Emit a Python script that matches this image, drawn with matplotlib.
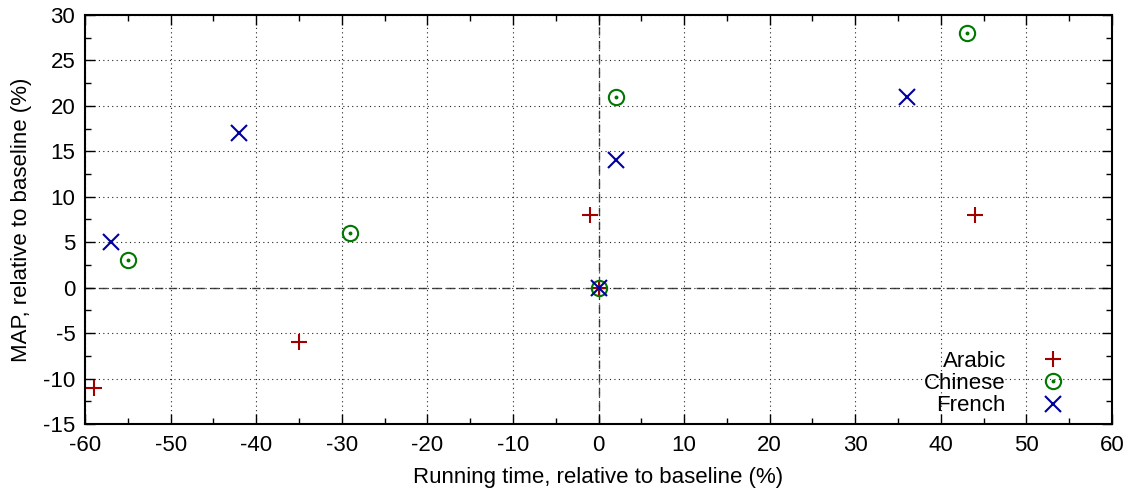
import matplotlib
matplotlib.use('Agg')
import matplotlib.pyplot as plt
from matplotlib.ticker import MultipleLocator
from matplotlib.legend_handler import HandlerTuple

plt.rcParams['font.family'] = ['Liberation Sans', 'DejaVu Sans']
plt.rcParams['font.size'] = 16
plt.rcParams['axes.unicode_minus'] = False

# data
arabic_x = [-59, -35, -1, 0, 44]
arabic_y = [-11, -6, 8, 0, 8]
chinese_x = [-55, -29, 0, 2, 43]
chinese_y = [3, 6, 0, 21, 28]
french_x = [-57, -42, 0, 2, 36]
french_y = [5, 17, 0, 14, 21]

red = '#a00000'
green = '#007800'
blue = '#0000a0'

fig = plt.figure(figsize=(11.37, 4.95), dpi=100)
ax = fig.add_axes([85/1137, 1 - 424/495, (1112-85)/1137, (424-15)/495])

ax.set_xlim(-60, 60)
ax.set_ylim(-15, 30)
ax.xaxis.set_major_locator(MultipleLocator(10))
ax.xaxis.set_minor_locator(MultipleLocator(5))
ax.yaxis.set_major_locator(MultipleLocator(5))
ax.yaxis.set_minor_locator(MultipleLocator(2.5))
ax.tick_params(which='both', direction='in', top=True, right=True, width=1)
ax.tick_params(which='major', length=7)
ax.tick_params(which='minor', length=4)
ax.tick_params(axis='x', pad=8)
ax.tick_params(axis='y', pad=7)
for s in ax.spines.values():
    s.set_linewidth(1.5)

ax.grid(True, which='major', linestyle=(0, (1, 3)), color='#222222', linewidth=0.8)
ax.axhline(0, color='#444444', linestyle=(0, (6, 4)), linewidth=1, zorder=1)
ax.axvline(0, color='#444444', linestyle=(0, (6, 4)), linewidth=1, zorder=1)

h1, = ax.plot(arabic_x, arabic_y, linestyle='none', marker='+', ms=11, mew=1.5, color=red, zorder=3)
h2a, = ax.plot(chinese_x, chinese_y, linestyle='none', marker='o', ms=11, mew=1.5,
               mfc='none', mec=green, zorder=3)
h2b, = ax.plot(chinese_x, chinese_y, linestyle='none', marker='o', ms=1.8, color=green, zorder=3)
h3, = ax.plot(french_x, french_y, linestyle='none', marker='x', ms=11, mew=1.5, color=blue, zorder=3)

ax.set_xlabel('Running time, relative to baseline (%)', labelpad=8)
ax.set_ylabel('MAP, relative to baseline (%)', labelpad=8)

leg = ax.legend([h1, (h2a, h2b), h3], ['Arabic', 'Chinese', 'French'],
                handler_map={tuple: HandlerTuple(ndivide=1, pad=0)},
                loc='lower right', bbox_to_anchor=(0.967, -0.003), frameon=False,
                markerfirst=False, handlelength=1.5, handletextpad=1.35,
                labelspacing=0.05, borderaxespad=0, fontsize=16)
for vp in leg._legend_handle_box.get_children():
    vp.align = 'right'

fig.savefig('out.png', dpi=100)
